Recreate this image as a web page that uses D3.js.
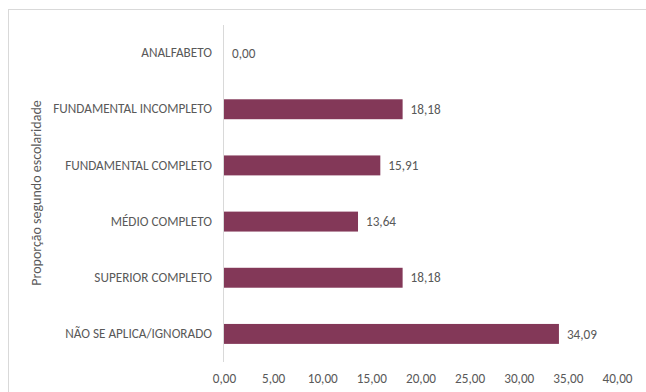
<!DOCTYPE html>
<html>
<head>
<meta charset="utf-8">
<script src="https://cdn.jsdelivr.net/npm/d3@7"></script>
<style>
  html, body { margin: 0; padding: 0; background: #fff; }
  svg { display: block; }
</style>
</head>
<body>
<svg id="chart" width="646" height="392"></svg>
<script>
// Escolaridade categories, top to bottom
const categories = [
  "ANALFABETO",
  "FUNDAMENTAL INCOMPLETO",
  "FUNDAMENTAL COMPLETO",
  "MÉDIO COMPLETO",
  "SUPERIOR COMPLETO",
  "NÃO SE APLICA/IGNORADO"
];
// Proportion (%) for each category
const values = [0.00, 18.18, 15.91, 13.64, 18.18, 34.09];
// X axis ticks
const xTicks = [0, 5, 10, 15, 20, 25, 30, 35, 40];
const axisTitle = "Proporção segundo escolaridade";

const W = 646, H = 392;
const font = "Calibri, Carlito, Lato, 'Liberation Sans', sans-serif";
const textColor = "#595959";
const barColor = "#833858";
const fmt = v => d3.format(".2f")(v).replace(".", ",");

const svg = d3.select("#chart");

// chart frame
svg.append("rect")
  .attr("x", 8.5).attr("y", 9.5)
  .attr("width", W + 20).attr("height", H + 20)
  .attr("fill", "none").attr("stroke", "#d9d9d9").attr("stroke-width", 1);

const x = d3.scaleLinear().domain([0, 40]).range([224, 617]);
const y = d3.scaleBand().domain(categories).range([25, 362]).paddingInner(0.645).paddingOuter(0.3225);

// category axis line
svg.append("line")
  .attr("x1", x(0) - 0.5).attr("x2", x(0) - 0.5)
  .attr("y1", 25).attr("y2", 362)
  .attr("stroke", "#d9d9d9").attr("stroke-width", 1);

// bars
svg.append("g").selectAll("rect")
  .data(values)
  .join("rect")
  .attr("x", x(0))
  .attr("y", (d, i) => y(categories[i]))
  .attr("width", d => x(d) - x(0))
  .attr("height", y.bandwidth())
  .attr("fill", barColor);

// value labels
svg.append("g").selectAll("text")
  .data(values)
  .join("text")
  .attr("x", d => x(d) + 8)
  .attr("y", (d, i) => y(categories[i]) + y.bandwidth() / 2)
  .attr("dy", "0.35em")
  .attr("font-family", font).attr("font-size", 13.2)
  .attr("fill", textColor)
  .text(d => fmt(d));

// category labels
const yAxis = d3.axisLeft(y).tickSize(0).tickPadding(12);
const gy = svg.append("g").attr("transform", `translate(${x(0)},0)`).call(yAxis);
gy.select(".domain").remove();
gy.selectAll("text")
  .attr("font-family", font).attr("font-size", 13.2)
  .attr("fill", textColor);

// value axis
const xAxis = d3.axisBottom(x).tickValues(xTicks).tickSize(0).tickPadding(0).tickFormat(fmt);
const gx = svg.append("g").attr("transform", `translate(0,374)`).call(xAxis);
gx.select(".domain").remove();
gx.selectAll("text")
  .attr("font-family", font).attr("font-size", 13.2)
  .attr("fill", textColor);

// axis title
svg.append("text")
  .attr("transform", `translate(41,193) rotate(-90)`)
  .attr("text-anchor", "middle")
  .attr("font-family", font).attr("font-size", 14)
  .attr("fill", textColor)
  .text(axisTitle);
</script>
</body>
</html>
